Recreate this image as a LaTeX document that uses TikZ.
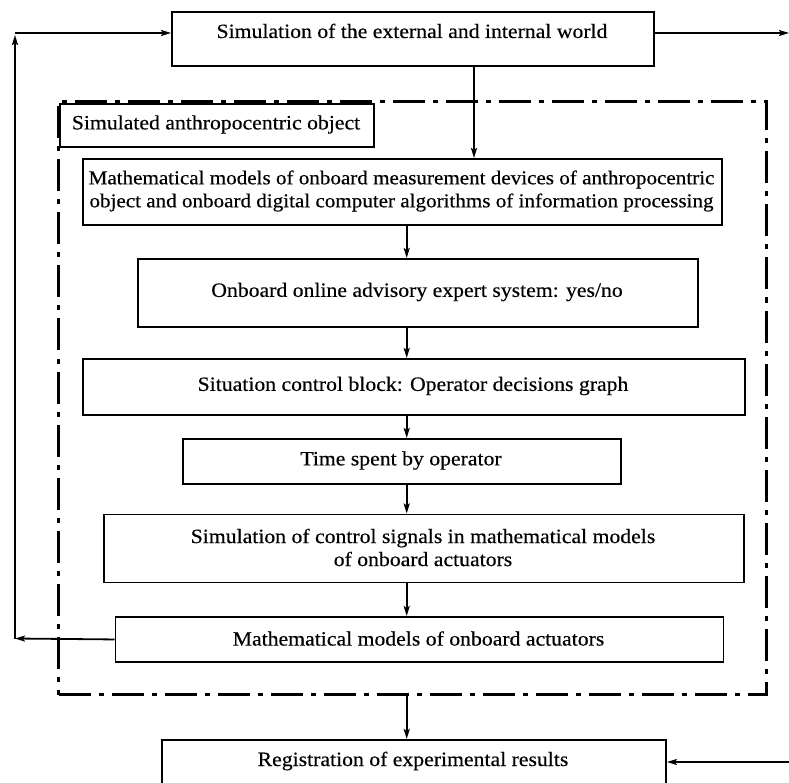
\documentclass[tikz,border=0pt]{standalone}
\usepackage{fontspec}
\setmainfont{Liberation Serif}[FakeStretch=1.07,FakeBold=0.35]
\usetikzlibrary{arrows.meta}
\begin{document}
\begin{tikzpicture}[x=1pt,y=-1pt,
  box/.style={draw, line width=1.9pt, inner sep=0pt, anchor=north west},
  lbl/.style={font=\fontsize{20.3}{23}\selectfont, align=center, inner sep=0pt},
  arr/.style={line width=1.8pt, -{Stealth[length=10pt,width=6pt,inset=2pt]}},
  shell/.style={draw, line width=3pt, inner sep=0pt, anchor=north west,
    dash pattern=on 32pt off 8pt on 5pt off 8pt}]
  \useasboundingbox (0,0) rectangle (789,783);
  \clip (0,0) rectangle (789,783);

  % outer blocks
  \node[box, minimum width=482pt, minimum height=54pt] (world) at (171,11) {};
  \node[lbl, anchor=base] (worldtxt) at (412,38) {Simulation of the external and internal world};

  \node[box, minimum width=504pt, minimum height=80pt] (reg) at (161,739) {};
  \node[lbl, anchor=base] (regtxt) at (413,766) {Registration of experimental results};

  % dash-dotted frame of the simulated object
  \node[shell, minimum width=708pt, minimum height=593pt] (frame) at (57.3,100) {};
  \node[box, minimum width=314pt, minimum height=43pt] (objbox) at (59,103) {};
  \node[lbl] (objtxt) at (216,124.5) {Simulated anthropocentric object};

  % inner chain of blocks
  \node[box, minimum width=639pt, minimum height=66pt] (meas) at (82,158) {};
  \node[lbl, font=\fontsize{19.7}{23}\selectfont] (meastxt) at (401.5,191) {Mathematical models of onboard measurement devices of anthropocentric\\object and onboard digital computer algorithms of information processing};

  \node[box, minimum width=560pt, minimum height=68pt] (expert) at (137,258) {};
  \node[lbl] (experttxt) at (417,292) {Onboard online advisory expert system: yes/no};

  \node[box, minimum width=662pt, minimum height=56pt] (sit) at (82,358) {};
  \node[lbl] (sittxt) at (413,386) {Situation control block: Operator decisions graph};

  \node[box, minimum width=438pt, minimum height=45pt] (time) at (182,438) {};
  \node[lbl] (timetxt) at (401,460.5) {Time spent by operator};

  \node[box, minimum width=640pt, minimum height=68pt] (sig) at (103,513.5) {};
  \node[lbl] (sigtxt) at (423,547.5) {Simulation of control signals in mathematical models\\of onboard actuators};

  \node[box, minimum width=608pt, minimum height=45pt] (act) at (114.5,616) {};
  \node[lbl] (acttxt) at (418.5,638.5) {Mathematical models of onboard actuators};

  % helper coordinates
  \coordinate (drop) at (474,0);
  \coordinate (spine) at (406.7,0);
  \coordinate (loopb) at (15,638.5);
  \coordinate (loopt) at (15,33);
  \coordinate (outr) at (789,33);
  \coordinate (inr) at (789,762);

  % connectors
  \draw[arr] (world.south -| drop) -- (meas.north -| drop);
  \draw[arr] (meas.south -| spine) -- (expert.north -| spine);
  \draw[arr] (expert.south -| spine) -- (sit.north -| spine);
  \draw[arr] (sit.south -| spine) -- (time.north -| spine);
  \draw[arr] (time.south -| spine) -- (sig.north -| spine);
  \draw[arr] (sig.south -| spine) -- (act.north -| spine);
  \draw[arr] (frame.south -| spine) -- (reg.north -| spine);

  \draw[arr] (act.west) -- (loopb);
  \draw[arr] (loopb) -- ([yshift=-2pt]loopt);
  \draw[arr] (loopt) -- (world.west |- loopt);
  \draw[arr] (world.east |- outr) -- (outr);
  \draw[arr] (inr) -- (reg.east |- inr);
\end{tikzpicture}
\end{document}
